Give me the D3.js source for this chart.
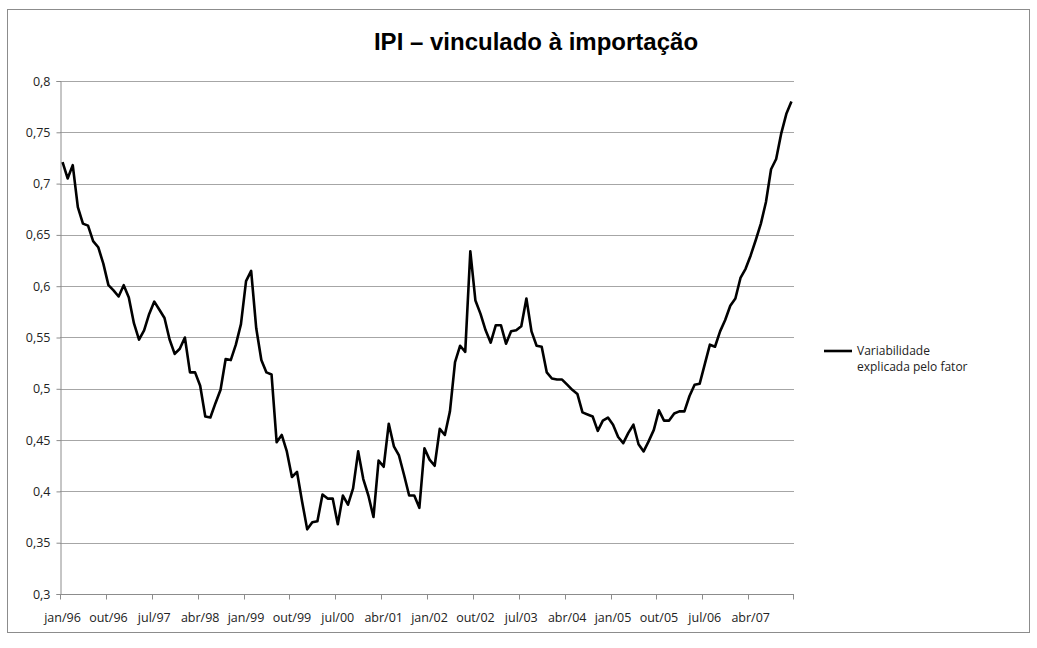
<!DOCTYPE html>
<html>
<head>
<meta charset="utf-8">
<script src="https://cdn.jsdelivr.net/npm/d3@7"></script>
<style>
  body { margin: 0; background: #fff; }
  svg { display: block; }
</style>
</head>
<body>
<svg class="grafico"></svg>
<script>
// meses jan/96 .. dez/07
const MESES_PT = ["jan", "fev", "mar", "abr", "mai", "jun", "jul", "ago", "set", "out", "nov", "dez"];
const ANOS = ["96", "97", "98", "99", "00", "01", "02", "03", "04", "05", "06", "07"];

const variabilidade = [
  0.721, 0.705, 0.718, 0.677, 0.661, 0.659, 0.644, 0.638, 0.622, 0.601, 0.596, 0.590,
  0.601, 0.589, 0.564, 0.548, 0.557, 0.573, 0.585, 0.577, 0.569, 0.548, 0.534, 0.539,
  0.550, 0.516, 0.516, 0.503, 0.473, 0.472, 0.486, 0.499, 0.529, 0.528, 0.543, 0.563,
  0.605, 0.615, 0.559, 0.528, 0.516, 0.514, 0.448, 0.455, 0.439, 0.414, 0.419, 0.390,
  0.363, 0.370, 0.371, 0.397, 0.393, 0.393, 0.368, 0.396, 0.387, 0.403, 0.439, 0.412,
  0.396, 0.375, 0.430, 0.424, 0.466, 0.444, 0.435, 0.416, 0.396, 0.396, 0.384, 0.442,
  0.431, 0.425, 0.461, 0.455, 0.478, 0.526, 0.542, 0.536, 0.634, 0.586, 0.573, 0.557,
  0.545, 0.562, 0.562, 0.544, 0.556, 0.557, 0.561, 0.588, 0.556, 0.542, 0.541, 0.516,
  0.510, 0.509, 0.509, 0.504, 0.499, 0.495, 0.477, 0.475, 0.473, 0.459, 0.469, 0.472,
  0.465, 0.453, 0.447, 0.457, 0.465, 0.446, 0.439, 0.449, 0.460, 0.479, 0.469, 0.469,
  0.476, 0.478, 0.478, 0.493, 0.504, 0.505, 0.524, 0.543, 0.541, 0.556, 0.567, 0.581,
  0.588, 0.608, 0.617, 0.630, 0.645, 0.661, 0.682, 0.714, 0.724, 0.749, 0.768, 0.780
];

const Y_TICKS = [0.3, 0.35, 0.4, 0.45, 0.5, 0.55, 0.6, 0.65, 0.7, 0.75, 0.8];
const TITULO = "IPI – vinculado à importação";
const LEGENDA = ["Variabilidade", "explicada pelo fator"];

const meses = [];
ANOS.forEach(a => MESES_PT.forEach(m => meses.push(m + "/" + a)));

const dados = meses.map((m, i) => ({ mes: m, valor: variabilidade[i] }));

const W = 1037, H = 648;
const M_ESQ = 60, M_DIR = 794, M_TOPO = 81, M_BASE = 594;

const $svg = d3.select(".grafico").attr("width", W).attr("height", H);

// moldura
$svg.append("rect")
    .attr("x", 7.5).attr("y", 9.5)
    .attr("width", 1022).attr("height", 623)
    .attr("fill", "#fff")
    .attr("stroke", "#8c8c8c")
    .attr("stroke-width", 1);

const x = d3.scaleBand().domain(meses).range([M_ESQ, M_DIR]).padding(0);
const y = d3.scaleLinear().domain([0.3, 0.8]).range([M_BASE, M_TOPO]);

// grade
$svg.append("g")
    .selectAll("line")
    .data(Y_TICKS.slice(1))
    .join("line")
    .attr("x1", M_ESQ).attr("x2", M_DIR)
    .attr("y1", d => Math.round(y(d)) + 0.5)
    .attr("y2", d => Math.round(y(d)) + 0.5)
    .attr("stroke", "#a6a6a6")
    .attr("stroke-width", 1);

// eixo y
const eixoY = $svg.append("g")
    .attr("transform", `translate(${M_ESQ + 0.5},0)`)
    .call(d3.axisLeft(y).tickValues(Y_TICKS).tickSize(4).tickPadding(6)
        .tickFormat(d => String(+d.toFixed(2)).replace(".", ",")));
eixoY.select(".domain").attr("stroke", "#8c8c8c");
eixoY.selectAll(".tick line").attr("stroke", "#8c8c8c");
eixoY.selectAll("text")
    .attr("font-family", "'Open Sans', sans-serif")
    .attr("font-size", 12.5)
    .attr("fill", "#222");

// eixo x
const labelsX = meses.filter((m, i) => i % 9 === 0);
const eixoX = $svg.append("g")
    .attr("transform", `translate(0,${Math.round(y(0.3)) + 0.5})`);
eixoX.append("line")
    .attr("x1", M_ESQ).attr("x2", M_DIR)
    .attr("stroke", "#8c8c8c");
eixoX.selectAll(".tk")
    .data(labelsX.concat(["fim"]))
    .join("line")
    .attr("class", "tk")
    .attr("x1", d => d === "fim" ? M_DIR - 0.5 : Math.round(x(d)) + 0.5)
    .attr("x2", d => d === "fim" ? M_DIR - 0.5 : Math.round(x(d)) + 0.5)
    .attr("y1", 0).attr("y2", 5)
    .attr("stroke", "#8c8c8c");
eixoX.selectAll("text")
    .data(labelsX)
    .join("text")
    .attr("x", d => x(d) + x.bandwidth() / 2)
    .attr("y", 27)
    .attr("text-anchor", "middle")
    .attr("font-family", "'Open Sans', sans-serif")
    .attr("font-size", 12.5)
    .attr("fill", "#222")
    .text(d => d);

// linha
const linha = d3.line()
    .x(d => x(d.mes) + x.bandwidth() / 2)
    .y(d => y(d.valor));

$svg.append("path")
    .datum(dados)
    .attr("d", linha)
    .attr("fill", "none")
    .attr("stroke", "#000")
    .attr("stroke-width", 2.6)
    .attr("stroke-linejoin", "round");

// titulo
$svg.append("text")
    .attr("x", 536).attr("y", 50)
    .attr("text-anchor", "middle")
    .attr("font-family", "'Liberation Sans', Arimo, Arial, sans-serif")
    .attr("font-weight", "bold")
    .attr("font-size", 24)
    .attr("fill", "#000")
    .text(TITULO);

// legenda
const $leg = $svg.append("g").attr("transform", "translate(824,351)");
$leg.append("line")
    .attr("x1", 0).attr("x2", 28)
    .attr("stroke", "#000").attr("stroke-width", 2.6);
$leg.selectAll("text")
    .data(LEGENDA)
    .join("text")
    .attr("x", 33)
    .attr("y", (d, i) => 4 + i * 16)
    .attr("font-family", "'Open Sans', sans-serif")
    .attr("font-size", 12)
    .attr("fill", "#222")
    .text(d => d);
</script>
</body>
</html>
